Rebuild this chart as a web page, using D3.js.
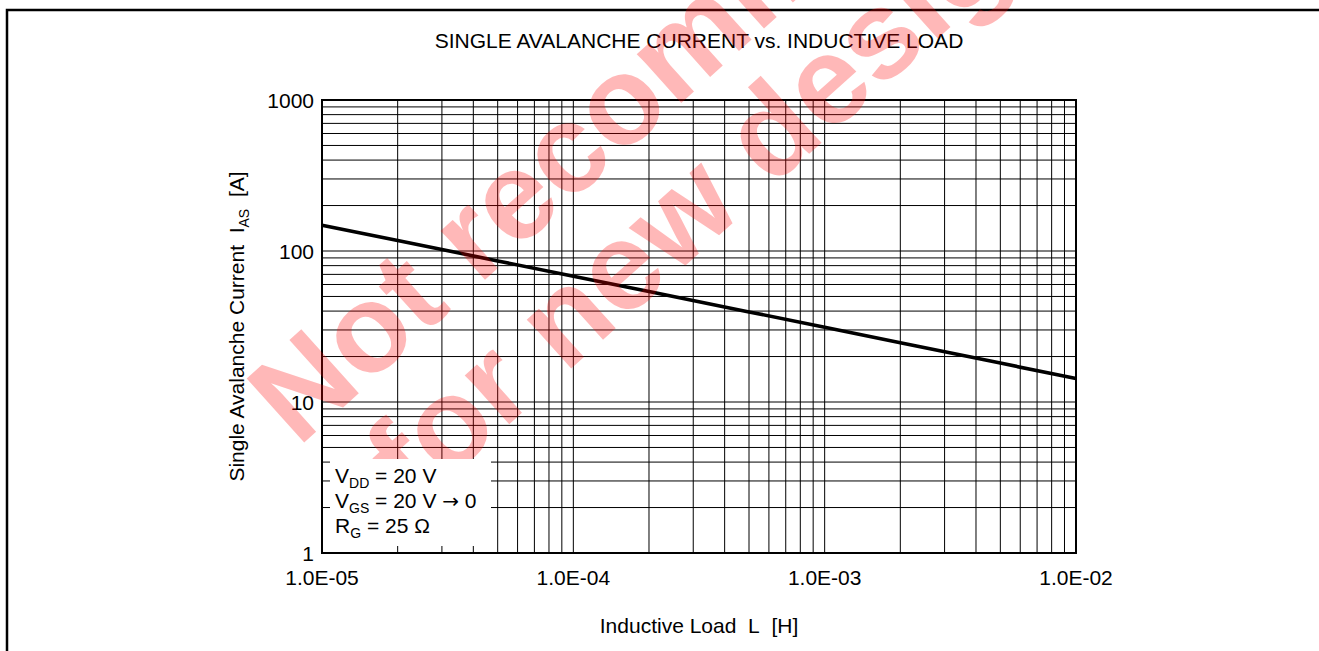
<!DOCTYPE html>
<html><head><meta charset="utf-8">
<script src="https://cdn.jsdelivr.net/npm/d3@7"></script>
<style>
html,body{margin:0;padding:0;background:#fff;}
svg{display:block;font-family:"Liberation Sans",Arial,Helvetica,sans-serif;}
</style></head>
<body>
<svg id="chart" width="1319" height="651"></svg>
<script>
// ---- data ----
const inductance = [1e-5, 2e-5, 5e-5, 1e-4, 2e-4, 5e-4, 1e-3, 2e-3, 5e-3, 1e-2];
const avalancheCurrent = [148, 117.5, 86, 68, 54, 39.5, 31.3, 24.7, 18.1, 14.3];
const xTickValues = [1e-5, 1e-4, 1e-3, 1e-2];
const xTickLabels = ["1.0E-05", "1.0E-04", "1.0E-03", "1.0E-02"];
const yTickValues = [1, 10, 100, 1000];
const yTickLabels = ["1", "10", "100", "1000"];
const titleText = "SINGLE AVALANCHE CURRENT vs. INDUCTIVE LOAD";
const xLabelText = "Inductive Load\u00A0\u00A0L\u00A0\u00A0[H]";
const conditions = [
  {main: "V", sub: "DD", rest: " = 20 V", arrow: "", tail: ""},
  {main: "V", sub: "GS", rest: " = 20 V ", arrow: "\u2192", tail: " 0"},
  {main: "R", sub: "G", rest: " = 25 \u03A9", arrow: "", tail: ""}
];
const watermarkLines = ["Not recommended", "for new designs"];

// ---- layout ----
const svg = d3.select("#chart");
const L = 322, R = 1076, T = 100, B = 553;
const x = d3.scaleLog().domain([1e-5, 1e-2]).range([L, R]);
const y = d3.scaleLog().domain([1, 1000]).range([B, T]);

// outer frame (top and left)
svg.append("path").attr("d", `M7,651 L7,10 L1319,10`)
  .attr("fill", "none").attr("stroke", "#000").attr("stroke-width", 2.5);

// grid
const g = svg.append("g");
g.selectAll("line.vx").data(x.ticks()).join("line")
  .attr("x1", d => x(d)).attr("x2", d => x(d)).attr("y1", T).attr("y2", B)
  .attr("stroke", "#000").attr("stroke-width", 1);
g.selectAll("line.hy").data(y.ticks()).join("line")
  .attr("y1", d => y(d)).attr("y2", d => y(d)).attr("x1", L).attr("x2", R)
  .attr("stroke", "#000").attr("stroke-width", 1);

// plot border
svg.append("rect").attr("x", L).attr("y", T).attr("width", R - L).attr("height", B - T)
  .attr("fill", "none").attr("stroke", "#000").attr("stroke-width", 2);

// curve
const pts = inductance.map((d, i) => [d, avalancheCurrent[i]]);
svg.append("path").datum(pts)
  .attr("d", d3.line().x(d => x(d[0])).y(d => y(d[1])))
  .attr("fill", "none").attr("stroke", "#000").attr("stroke-width", 3.6);

// tick labels
svg.selectAll("text.xt").data(xTickValues).join("text")
  .attr("x", d => x(d)).attr("y", 585).attr("text-anchor", "middle")
  .attr("font-size", 21).attr("fill", "#000")
  .text((d, i) => xTickLabels[i]);
svg.selectAll("text.yt").data(yTickValues).join("text")
  .attr("x", 314).attr("y", d => y(d)).attr("dy", "0.36em").attr("text-anchor", "end")
  .attr("font-size", 21).attr("fill", "#000")
  .text((d, i) => yTickLabels[i]);

// title
svg.append("text").attr("x", (L + R) / 2).attr("y", 48).attr("text-anchor", "middle")
  .attr("font-size", 21).text(titleText);

// x label
svg.append("text").attr("x", (L + R) / 2).attr("y", 633).attr("text-anchor", "middle")
  .attr("font-size", 21).text(xLabelText);

// y label
const yl = svg.append("text").attr("transform", `translate(244,${(T + B) / 2}) rotate(-90)`)
  .attr("text-anchor", "middle").attr("font-size", 21);
yl.append("tspan").text("Single Avalanche Current\u00A0\u00A0I");
yl.append("tspan").attr("font-size", 14).attr("dy", 5).text("AS");
yl.append("tspan").attr("dy", -5).text("\u00A0\u00A0[A]");

// watermark (over the chart)
const wmStarts = [[298, 448], [415, 509]];
watermarkLines.forEach((s, i) => {
  svg.append("text")
    .attr("transform", `translate(${wmStarts[i][0]},${wmStarts[i][1]}) rotate(-42)`)
    .attr("font-size", 125).attr("font-weight", "bold")
    .attr("fill", "#ff0000").attr("fill-opacity", 0.28)
    .text(s);
});

// white conditions box covering grid and watermark
svg.append("rect").attr("x", 330).attr("y", 459).attr("width", 161).attr("height", 87).attr("fill", "#fff");

// conditions
conditions.forEach((c, i) => {
  const t = svg.append("text").attr("x", 335).attr("y", 483 + i * 25).attr("font-size", 21);
  t.append("tspan").text(c.main);
  t.append("tspan").attr("font-size", 14).attr("dy", 5).text(c.sub);
  t.append("tspan").attr("dy", -5).text(c.rest);
  if (c.arrow) {
    t.append("tspan").attr("font-family", "DejaVu Sans").attr("font-size", 20).text(c.arrow);
    t.append("tspan").text(c.tail);
  }
});
</script>
</body></html>
